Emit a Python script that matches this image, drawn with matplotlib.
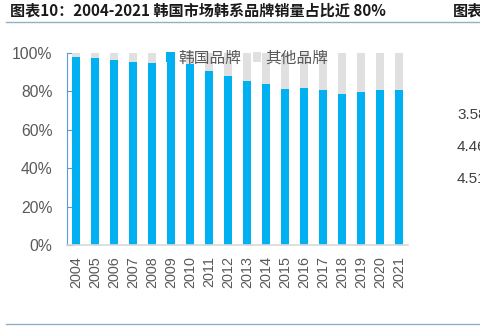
import matplotlib
matplotlib.use("Agg")
import matplotlib.pyplot as plt
import numpy as np
from matplotlib.lines import Line2D

plt.rcParams['font.family'] = ['Liberation Sans', 'Noto Sans CJK SC', 'DejaVu Sans']

# data (share of Korean brands in Korea car sales, %)
years = [str(y) for y in range(2004, 2022)]
korean = [98.1, 97.6, 96.5, 95.5, 94.9, 95.3, 94.1, 90.8, 88.2, 85.6,
          84.0, 81.2, 81.9, 80.9, 78.8, 79.5, 80.9, 80.7]
others = [100 - v for v in korean]
series_names = ['韩国品牌', '其他品牌']
yticks = [0, 20, 40, 60, 80, 100]
side_values = ['3.58', '4.46', '4.51']

blue = '#00b0f0'
grey_bar = '#e0e0e0'
txt = '#595959'
rule = '#8fb0c6'

fig = plt.figure(figsize=(4.8, 3.31), dpi=100)
ax = fig.add_axes([67/480, 1-245/331, 341/480, 192/331])

x = np.arange(len(years))
ax.bar(x, korean, width=0.44, color=blue, label=series_names[0], zorder=2)
ax.bar(x, others, width=0.44, bottom=korean, color=grey_bar, label=series_names[1], zorder=2)

ax.set_xlim(-0.47, len(years) - 0.53)
ax.set_ylim(0, 100)
ax.set_yticks(yticks)
ax.set_yticklabels([f'{t}%' for t in yticks], fontsize=11.3, color=txt)
ax.set_xticks(x)
ax.set_xticklabels(years, rotation=90, fontsize=10.4, color=txt)
ax.tick_params(axis='x', length=0, pad=8)
ax.tick_params(axis='y', direction='in', length=4, color='#5b9bd5', pad=10.5)
for s in ['top', 'right']:
    ax.spines[s].set_visible(False)
ax.spines['left'].set_color('#5b9bd5')
ax.spines['bottom'].set_color('#d9d9d9')
ax.spines['bottom'].set_linewidth(1.2)

leg = ax.legend(loc='center', bbox_to_anchor=(0.528, 0.974), ncol=2, frameon=False,
                handlelength=0.53, handleheight=0.53, handletextpad=0.25,
                columnspacing=0.7, borderpad=0,
                prop={'family': ['Noto Sans CJK SC'], 'size': 11.3})
for t in leg.get_texts():
    t.set_color(txt)

# title and page rules
fig.text(10/480, 1-11/331, '图表10：2004-2021 韩国市场韩系品牌销量占比近 80%',
         family=['Noto Sans CJK SC'], fontweight='bold', fontstyle='italic',
         fontsize=10.9, color='#1a1a1a', va='center', ha='left')
fig.text(453/480, 1-11/331, '图表', family=['Noto Sans CJK SC'], fontweight='bold',
         fontsize=10.9, color='#1a1a1a', va='center', ha='left')
fig.add_artist(Line2D([6/480, 1], [1-22/331, 1-22/331], color=rule, lw=1.0))
fig.add_artist(Line2D([6/480, 1], [1-324/331, 1-324/331], color=rule, lw=1.0))

for v, yy in zip(side_values, [115, 147, 179]):
    fig.text(457/480, 1-yy/331, v, fontsize=11, color='#404040', va='center', ha='left')

fig.savefig('out.png', dpi=100)
